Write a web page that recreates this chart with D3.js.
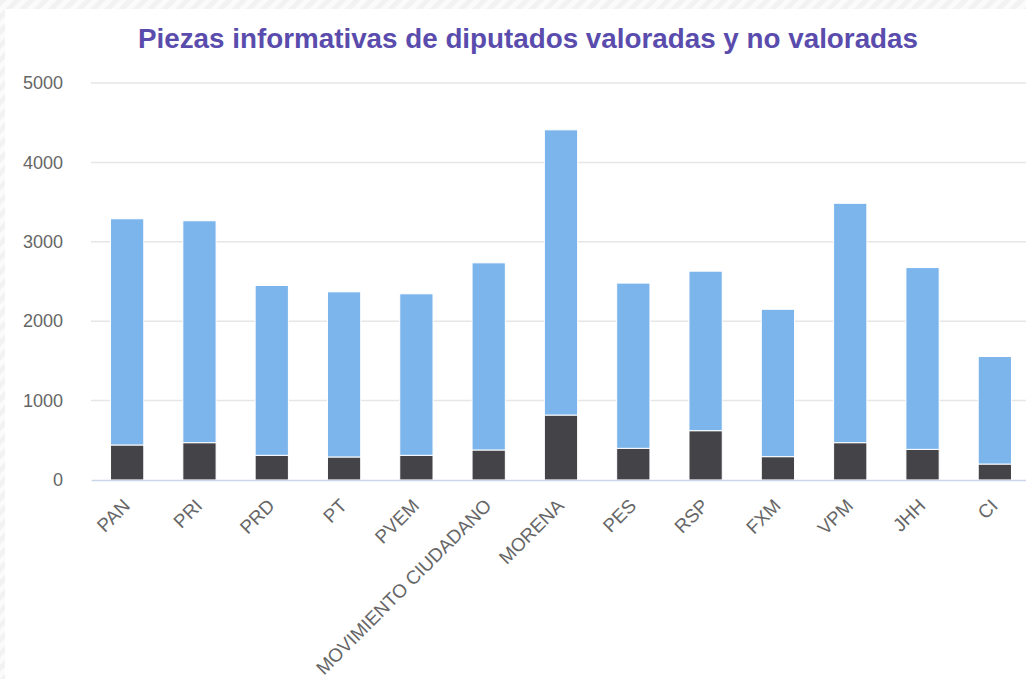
<!DOCTYPE html>
<meta charset="utf-8">
<style>
  body { margin: 0; background: #fff; }
  svg { display: block; font-family: "Liberation Sans", Arial, sans-serif; }
</style>
<svg width="1026" height="679"></svg>
<script src="https://cdn.jsdelivr.net/npm/d3@7/dist/d3.min.js"></script>
<script>

var partidos = ["PAN", "PRI", "PRD", "PT", "PVEM", "MOVIMIENTO CIUDADANO", "MORENA",
                "PES", "RSP", "FXM", "VPM", "JHH", "CI"];
var valoradas = [441, 470, 311, 290, 311, 378, 818, 399, 621, 294, 470, 386, 201];
var noValoradas = [2849, 2795, 2139, 2080, 2034, 2357, 3592, 2081, 2009, 1856, 3015, 2289, 1354];
var yTicks = [0, 1000, 2000, 3000, 4000, 5000];
var titulo = "Piezas informativas de diputados valoradas y no valoradas";

var svg = d3.select("svg"),
    margin = {top: 83, right: -5, bottom: 199, left: 91},
    width = +svg.attr("width") - margin.left - margin.right,
    height = +svg.attr("height") - margin.top - margin.bottom;

// striped page background behind the white card
var pat = svg.append("defs").append("pattern")
    .attr("id", "stripes")
    .attr("width", 10).attr("height", 10)
    .attr("patternUnits", "userSpaceOnUse")
    .attr("patternTransform", "rotate(45)");
pat.append("rect").attr("width", 10).attr("height", 10).attr("fill", "#fbfbfb");
pat.append("rect").attr("width", 5).attr("height", 10).attr("fill", "#f2f2f2");

svg.append("rect").attr("width", 1026).attr("height", 679).attr("fill", "url(#stripes)");
svg.append("rect").attr("x", 5).attr("y", 9).attr("width", 1021).attr("height", 670).attr("fill", "#fff");

svg.append("text")
    .attr("x", 528)
    .attr("y", 48)
    .attr("text-anchor", "middle")
    .attr("fill", "#5a4cad")
    .attr("font-size", 27)
    .attr("font-weight", "bold")
    .attr("textLength", 780)
    .attr("lengthAdjust", "spacingAndGlyphs")
    .text(titulo);

var g = svg.append("g").attr("transform", "translate(" + margin.left + "," + margin.top + ")");

var x = d3.scaleBand()
    .domain(partidos)
    .range([0, width])
    .paddingInner(0.54)
    .paddingOuter(0.27);

var y = d3.scaleLinear()
    .domain([0, 5000])
    .range([height, 0]);

var data = partidos.map(function(p, i) {
  return {partido: p, valoradas: valoradas[i], noValoradas: noValoradas[i]};
});

var series = d3.stack().keys(["valoradas", "noValoradas"])(data);
var colores = {valoradas: "#434348", noValoradas: "#7cb5ec"};

// gridlines
g.append("g")
  .selectAll("line")
  .data(yTicks.slice(1))
  .enter().append("line")
    .attr("x1", 0)
    .attr("x2", width)
    .attr("y1", function(d) { return y(d); })
    .attr("y2", function(d) { return y(d); })
    .attr("stroke", "#e6e6e6")
    .attr("stroke-width", 1.5);

// y axis labels
var yAxis = g.append("g")
    .call(d3.axisLeft(y).tickValues(yTicks).tickSize(0).tickPadding(28).tickFormat(d3.format("d")));
yAxis.select(".domain").remove();
yAxis.selectAll("text")
    .attr("fill", "#666")
    .attr("font-size", 18)
    .attr("font-family", "\"Liberation Sans\", Arial, sans-serif");

// bars
g.selectAll(".serie")
  .data(series)
  .enter().append("g")
    .attr("class", "serie")
    .attr("fill", function(d) { return colores[d.key]; })
  .selectAll("rect")
  .data(function(d) { return d; })
  .enter().append("rect")
    .attr("x", function(d) { return x(d.data.partido); })
    .attr("y", function(d) { return y(d[1]); })
    .attr("width", x.bandwidth())
    .attr("height", function(d) { return y(d[0]) - y(d[1]); })
    .attr("stroke", "#fff")
    .attr("stroke-width", 1);

// x axis
var xAxis = g.append("g")
    .attr("transform", "translate(0," + height + ")")
    .call(d3.axisBottom(x).tickSize(0).tickPadding(0));
xAxis.select(".domain")
    .attr("stroke", "#ccd6eb")
    .attr("stroke-width", 1.5);
xAxis.selectAll("text")
    .attr("fill", "#666")
    .attr("font-size", 18.8)
    .attr("font-family", "\"Liberation Sans\", Arial, sans-serif")
    .attr("text-anchor", "end")
    .attr("dy", null)
    .attr("transform", "translate(4,27) rotate(-45)");

</script>
